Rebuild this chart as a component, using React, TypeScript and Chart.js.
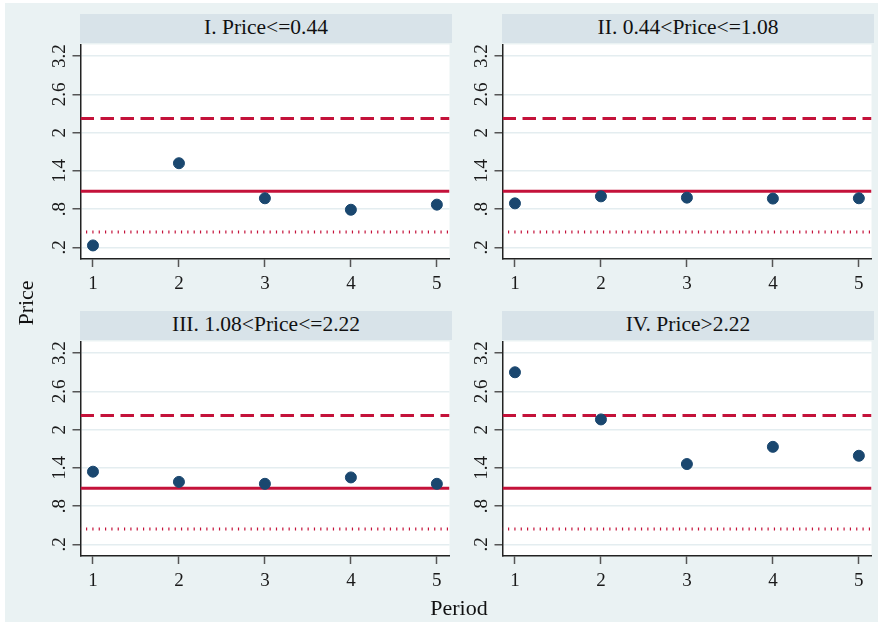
import React, { useEffect, useRef } from "react";
import { Chart, registerables } from "chart.js";

Chart.register(...registerables);

const periods = [1, 2, 3, 4, 5];
const yTicks = [0.2, 0.8, 1.4, 2, 2.6, 3.2];
const panelTitles = [
  "I. Price<=0.44",
  "II. 0.44<Price<=1.08",
  "III. 1.08<Price<=2.22",
  "IV. Price>2.22",
];
const seriesI = [0.23, 1.52, 0.97, 0.79, 0.87];
const seriesII = [0.89, 1.0, 0.98, 0.965, 0.97];
const seriesIII = [1.34, 1.18, 1.15, 1.25, 1.15];
const seriesIV = [2.9, 2.16, 1.46, 1.73, 1.59];
const panelSeries = [seriesI, seriesII, seriesIII, seriesIV];
const refDashed = 2.22;
const refSolid = 1.08;
const refDotted = 0.44;

const X_MIN = 0.855;
const X_MAX = 5.147;
const Y_MIN = 0.017;
const Y_MAX = 3.383;

const FONT = '"Liberation Serif", "Times New Roman", serif';
const NAVY = "#1a476f";
const RED = "#c4123a";
const BG = "#eaf2f3";
const HEADER = "#d8e3e9";

function fmt(v: number): string {
  const s = String(Math.round(v * 10) / 10);
  return s.startsWith("0.") ? s.slice(1) : s;
}

const panelPlugin = {
  id: "panelPlugin",
  beforeDraw(chart: any) {
    const { ctx, chartArea } = chart;
    ctx.save();
    ctx.fillStyle = "#ffffff";
    ctx.fillRect(chartArea.left, chartArea.top, chartArea.right - chartArea.left, chartArea.bottom - chartArea.top);
    ctx.restore();
  },
  afterDraw(chart: any) {
    const { ctx, chartArea } = chart;
    const xs = chart.scales.x;
    const ys = chart.scales.y;
    ctx.save();
    ctx.fillStyle = "#1a1a1a";
    ctx.font = `19px ${FONT}`;
    ctx.textAlign = "center";
    ctx.textBaseline = "alphabetic";
    for (const v of yTicks) {
      const y = ys.getPixelForValue(v);
      ctx.save();
      ctx.translate(chartArea.left - 15.5, y);
      ctx.rotate(-Math.PI / 2);
      ctx.fillText(fmt(v), 0, 0);
      ctx.restore();
    }
    for (const v of periods) {
      const x = xs.getPixelForValue(v);
      ctx.fillText(String(v), x, chartArea.bottom + 30);
    }
    ctx.restore();
  },
};

function Panel({ values, left, top }: { values: number[]; left: number; top: number }) {
  const ref = useRef<HTMLCanvasElement | null>(null);
  useEffect(() => {
    if (!ref.current) return;
    const refLine = (v: number) => [
      { x: X_MIN, y: v },
      { x: X_MAX, y: v },
    ];
    const chart = new Chart(ref.current, {
      type: "scatter",
      data: {
        datasets: [
          {
            label: "Price",
            data: periods.map((p, i) => ({ x: p, y: values[i] })),
            backgroundColor: NAVY,
            borderColor: NAVY,
            pointRadius: 5.5,
            pointHoverRadius: 5.5,
            order: 0,
          },
          {
            type: "line",
            label: "dashed",
            data: refLine(refDashed),
            borderColor: RED,
            borderWidth: 3,
            borderDash: [13.5, 6.5],
            pointRadius: 0,
            showLine: true,
            order: 1,
          } as any,
          {
            type: "line",
            label: "solid",
            data: refLine(refSolid),
            borderColor: RED,
            borderWidth: 3,
            pointRadius: 0,
            showLine: true,
            order: 1,
          } as any,
          {
            type: "line",
            label: "dotted",
            data: refLine(refDotted),
            borderColor: RED,
            borderWidth: 3,
            borderDash: [1.2, 5.13],
            borderDashOffset: -5.5,
            pointRadius: 0,
            showLine: true,
            order: 1,
          } as any,
        ],
      },
      options: {
        animation: false,
        responsive: false,
        maintainAspectRatio: false,
        layout: { padding: { left: 0, top: 5, right: 4, bottom: 0 } },
        plugins: { legend: { display: false }, tooltip: { enabled: false }, title: { display: false } },
        scales: {
          x: {
            type: "linear",
            min: X_MIN,
            max: X_MAX,
            afterBuildTicks: (s: any) => {
              s.ticks = periods.map((v) => ({ value: v }));
            },
            afterFit: (s: any) => {
              s.height = 45;
            },
            ticks: { display: false },
            grid: {
              display: true,
              drawOnChartArea: false,
              drawTicks: true,
              tickLength: 8,
              tickColor: "#555555",
              tickWidth: 1.5,
            },
            border: { display: true, color: "#222222", width: 1.5 },
          },
          y: {
            type: "linear",
            min: Y_MIN,
            max: Y_MAX,
            afterBuildTicks: (s: any) => {
              s.ticks = yTicks.map((v) => ({ value: v }));
            },
            afterFit: (s: any) => {
              s.width = 50.5;
            },
            ticks: { display: false },
            grid: {
              display: true,
              drawOnChartArea: true,
              drawTicks: true,
              tickLength: 8,
              color: "#e4edf0",
              lineWidth: 1.5,
              tickColor: "#555555",
              tickWidth: 1.5,
            },
            border: { display: true, color: "#222222", width: 1.5 },
          },
        },
      } as any,
      plugins: [panelPlugin],
    });
    return () => chart.destroy();
  }, [values]);
  return (
    <canvas
      ref={ref}
      width={426}
      height={266}
      style={{ position: "absolute", left, top, width: 426, height: 266 }}
    />
  );
}

export default function App() {
  const plotLefts = [80.5, 502.7];
  const plotRights = [452, 874];
  const headerTops = [14, 311];
  const plotTops = [43, 340];
  return (
    <div style={{ position: "absolute", left: 0, top: 0, width: 880, height: 624, background: "#ffffff", overflow: "hidden" }}>
      <div style={{ position: "absolute", left: 5, top: 3, width: 873, height: 619, background: BG }} />
      {panelTitles.map((t, i) => {
        const col = i % 2;
        const row = Math.floor(i / 2);
        const hl = Math.round(plotLefts[col] - 0.5);
        return (
          <div
            key={"h" + i}
            style={{
              position: "absolute",
              left: hl,
              top: headerTops[row],
              width: plotRights[col] - hl,
              height: 29,
              lineHeight: "26px",
              background: HEADER,
              color: "#111111",
              fontFamily: FONT,
              fontSize: "21.5px",
              textAlign: "center",
              whiteSpace: "nowrap",
            }}
          >
            {t}
          </div>
        );
      })}
      {panelSeries.map((s, i) => {
        const col = i % 2;
        const row = Math.floor(i / 2);
        return <Panel key={"p" + i} values={s} left={plotRights[col] + 4 - 426} top={plotTops[row] - 5} />;
      })}
      <div
        style={{
          position: "absolute",
          left: 25.6 - 40,
          top: 303 - 13,
          width: 80,
          height: 26,
          lineHeight: "26px",
          transform: "rotate(-90deg)",
          transformOrigin: "50% 50%",
          textAlign: "center",
          fontFamily: FONT,
          fontSize: "22px",
          color: "#111111",
        }}
      >
        Price
      </div>
      <div
        style={{
          position: "absolute",
          left: 459 - 60,
          top: 595.3,
          width: 120,
          height: 26,
          lineHeight: "26px",
          textAlign: "center",
          fontFamily: FONT,
          fontSize: "22px",
          color: "#111111",
        }}
      >
        Period
      </div>
    </div>
  );
}
